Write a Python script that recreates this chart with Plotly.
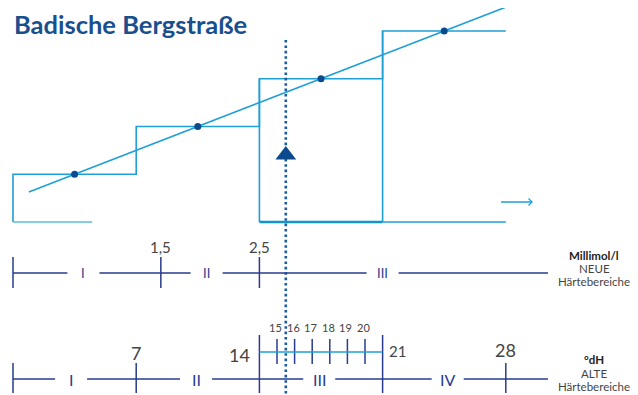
import plotly.graph_objects as go

# --- Werte (°dH-Skala ist die gemeinsame x-Achse) ---
dh_edges = [0, 7, 14, 21, 28]          # Grenzen der alten Härtebereiche
step_levels = [1, 2, 3, 4]             # Stufenhöhe je Bereich
dot_dh = [3.5, 10.5, 17.5, 24.5]       # Punkte auf der Geraden
dot_level = [1, 2, 3, 4]
trend_dh = [0.9, 28]
trend_level = [0.63, 4.5]
marker_dh = 15.5                       # Badische Bergstraße

MMOL_TO_DH = 5.6
mmol_ticks = [0, 1.5, 2.5]
mmol_tick_labels = ["", "1,5", "2,5"]
mmol_ranges = ["I", "II", "III"]
mmol_range_pos = [4.0, 11.0, 21.0]

dh_ticks = [0, 7, 14, 21, 28]
dh_long_ticks = [14, 21]
dh_tick_labels = ["", "7", "14", "21", "28"]
fine_ticks = [15, 16, 17, 18, 19, 20]
dh_ranges = ["I", "II", "III", "IV"]
dh_range_pos = [3.3, 10.4, 17.4, 24.7]
scale_end = 30.4

# Farben
LIGHT = "#1e9fd7"
NAVY = "#283b8e"
DARK = "#0c4a8e"
DOTTED = "#1b5aa6"
TITLE = "#1a4f8e"
GREY = "#444444"
FONT = "Lato"

# Seite hat 8px Rand -> Figur kleiner, Achsen entsprechend verschoben
OFF = 8
W, H = 638 - OFF, 395 - OFF
PX_DH, X0 = 17.6, 13        # Pixel je °dH, Pixel von 0 °dH
PX_LVL, Y0 = 47.75, 222     # Pixel je Stufe, Grundlinie

# Pixel-Zeilen der Skalen (y2 in Pixeln)
ROW_MMOL = 273
ROW_DH = 379
ROW_FINE = 352
GAP = 0.91

fig = go.Figure()

# Stufen
fig.add_trace(go.Scatter(
    x=[dh_edges[0]] + dh_edges, y=[0] + step_levels + [step_levels[-1]],
    mode="lines", line=dict(color=LIGHT, width=1.6, shape="hv"), hoverinfo="skip"))
# Senkrechte Kanten des markierten Bereichs
for xv, top in [(dh_edges[2], step_levels[2]), (dh_edges[3], step_levels[3])]:
    fig.add_trace(go.Scatter(x=[xv, xv], y=[0, top], mode="lines",
                             line=dict(color=LIGHT, width=1.6), hoverinfo="skip"))
# Grundlinien
fig.add_trace(go.Scatter(x=[0, 4.5], y=[0, 0], mode="lines",
                         line=dict(color="#5bbbe4", width=1.6), hoverinfo="skip"))
fig.add_trace(go.Scatter(x=[dh_edges[2], dh_edges[3]], y=[0, 0], mode="lines",
                         line=dict(color="#0f96cf", width=2.6), hoverinfo="skip"))
fig.add_trace(go.Scatter(x=[dh_edges[3], dh_edges[4]], y=[0, 0], mode="lines",
                         line=dict(color=LIGHT, width=1.6), hoverinfo="skip"))
# Gerade und Punkte
fig.add_trace(go.Scatter(x=trend_dh, y=trend_level, mode="lines",
                         line=dict(color=LIGHT, width=1.6), hoverinfo="skip"))
fig.add_trace(go.Scatter(x=dot_dh, y=dot_level, mode="markers",
                         marker=dict(color=DARK, size=7), hoverinfo="skip"))

# gepunktete Markierung und Pfeil
fig.add_trace(go.Scatter(x=[marker_dh, marker_dh], y=[40, 395], yaxis="y2", mode="lines",
                         line=dict(color=DOTTED, width=2.6, dash="2.6px,2.8px"), hoverinfo="skip"))
fig.add_trace(go.Scatter(x=[marker_dh], y=[155], yaxis="y2", mode="markers",
                         marker=dict(symbol="triangle-up", color=DARK, size=18), hoverinfo="skip"))


def row_segments(positions, row_y):
    xs, ys = [], []
    start = 0
    for p in positions:
        xs += [start, p - GAP, None]
        ys += [row_y, row_y, None]
        start = p + GAP
    xs += [start, scale_end]
    ys += [row_y, row_y]
    return xs, ys


def ticks(values, y0, y1):
    xs, ys = [], []
    for v in values:
        xs += [v, v, None]
        ys += [y0, y1, None]
    return xs, ys


# Millimol-Zeile
sx, sy = row_segments(mmol_range_pos, ROW_MMOL)
tx, ty = ticks([m * MMOL_TO_DH for m in mmol_ticks], 257, 288)
fig.add_trace(go.Scatter(x=sx + [None] + tx, y=sy + [None] + ty, yaxis="y2", mode="lines",
                         line=dict(color=NAVY, width=1.5), hoverinfo="skip"))

# °dH-Zeile
sx, sy = row_segments(dh_range_pos, ROW_DH)
tx, ty = ticks([t for t in dh_ticks if t not in dh_long_ticks], 363, 393)
lx, ly = ticks(dh_long_ticks, 335, 393)
fx, fy = ticks(fine_ticks, 339, 364)
fig.add_trace(go.Scatter(x=sx + [None] + tx + lx + fx, y=sy + [None] + ty + ly + fy,
                         yaxis="y2", mode="lines",
                         line=dict(color=NAVY, width=1.5), hoverinfo="skip"))
fig.add_trace(go.Scatter(x=[dh_long_ticks[0], dh_long_ticks[1]], y=[ROW_FINE, ROW_FINE],
                         yaxis="y2", mode="lines", line=dict(color=LIGHT, width=1.5),
                         hoverinfo="skip"))

ann = []


def label(text, x, y, size, color, xanchor="center", bold=False, xshift=0, height=None):
    a = dict(text=f"<b>{text}</b>" if bold else text, x=x, y=y, xref="x", yref="y2",
             showarrow=False, xanchor=xanchor, yanchor="middle", xshift=xshift,
             font=dict(family=FONT, size=size, color=color))
    if height:
        a["height"] = height
    ann.append(a)


for m, t in zip(mmol_ticks, mmol_tick_labels):
    if t:
        label(t, m * MMOL_TO_DH, 247, 15, GREY)
for r, p in zip(mmol_ranges, mmol_range_pos):
    label(r, p, ROW_MMOL, 13, NAVY)

dh_label_y = {"7": 353, "14": 355, "21": 351, "28": 350}
dh_label_size = {"7": 18, "14": 18, "21": 15, "28": 18}
for v, t in zip(dh_ticks, dh_tick_labels):
    if not t:
        continue
    if t == "14":
        label(t, v, dh_label_y[t], dh_label_size[t], GREY, xanchor="right", xshift=-7)
    elif t == "21":
        label(t, v, dh_label_y[t], dh_label_size[t], GREY, xanchor="left", xshift=4)
    else:
        label(t, v, dh_label_y[t], dh_label_size[t], GREY)
for f in fine_ticks:
    label(str(f), f, 327, 11, GREY, xshift=-1.5)
for r, p in zip(dh_ranges, dh_range_pos):
    label(r, p, ROW_DH, 16, NAVY)

# Beschriftung rechts
right_x = (594 - X0) / PX_DH
label("Millimol/l", right_x, 255, 11.5, "#222222", bold=True, height=12)
label("NEUE", right_x, 268, 11.5, GREY, height=12)
label("Härtebereiche", right_x, 281, 11.5, GREY, height=12)
label("°dH", right_x, 359, 11.5, "#222222", bold=True, height=12)
label("ALTE", right_x, 373, 11.5, GREY, height=12)
label("Härtebereiche", right_x, 386, 11.5, GREY, height=12)

# Titel
ann.append(dict(text="<b>Badische Bergstraße</b>", x=(12 - OFF) / W, y=24, xref="paper", yref="y2",
                showarrow=False, xanchor="left", yanchor="middle", height=28,
                font=dict(family=FONT, size=25.5, color=TITLE)))

# kleiner Pfeil rechts
ar0, ar1 = 27.73, 29.49
shapes = [
    dict(type="line", x0=ar0, x1=ar1, y0=202, y1=202, xref="x", yref="y2",
         line=dict(color=LIGHT, width=1.5)),
    dict(type="path", path=f"M {ar1 - 0.2},198.5 L {ar1},202 L {ar1 - 0.2},205.5",
         xref="x", yref="y2", line=dict(color=LIGHT, width=1.3)),
]

fig.update_layout(
    width=W, height=H,
    margin=dict(l=0, r=0, t=0, b=0),
    paper_bgcolor="white", plot_bgcolor="white",
    showlegend=False,
    xaxis=dict(range=[(OFF - X0) / PX_DH, (638 - X0) / PX_DH], visible=False, fixedrange=True),
    yaxis=dict(range=[(Y0 - 395) / PX_LVL, (Y0 - OFF) / PX_LVL], visible=False, fixedrange=True),
    yaxis2=dict(range=[395, OFF], overlaying="y", visible=False, fixedrange=True),
    annotations=ann,
    shapes=shapes,
)

fig.write_html("out.html")
